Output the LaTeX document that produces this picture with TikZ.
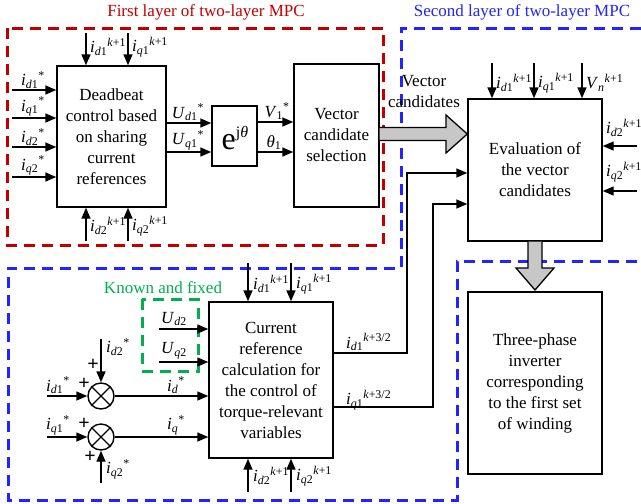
\documentclass[tikz,border=0pt]{standalone}
\usepackage{fontspec}
\setmainfont{Liberation Serif}
\usetikzlibrary{arrows.meta,calc}
\definecolor{myred}{RGB}{192,0,0}
\definecolor{myblue}{RGB}{35,35,255}
\definecolor{mygreen}{RGB}{0,176,80}
\newcommand\vr[3]{\textit{#1}\textsubscript{#2}\textsuperscript{#3}}
\begin{document}
\begin{tikzpicture}[x=1pt,y=-1pt,
  every node/.style={font=\fontsize{17}{21}\selectfont, inner sep=0pt},
  blk/.style={draw, line width=1.4pt, align=center},
  arr/.style={line width=1.4pt, -{Triangle[length=11pt,width=9pt]}},
  zone/.style={line width=3pt, dash pattern=on 11pt off 7pt},
  grayarrow/.style={draw, line width=1.3pt, fill=black!22},
  sumc/.style={draw, circle, line width=1.4pt, minimum size=26pt}
]
\useasboundingbox (0,0) rectangle (641,504);

% zones
\draw[zone, myred] (7,28) rectangle (383,245);
\draw[zone, myblue] (641,28) -- (401,28) -- (401,268) -- (8,268) -- (8,500) -- (457,500) -- (457,261) -- (641,261);
\draw[zone, mygreen] (142,299) rectangle (198,371);
\node[text=myred] (t1) at (206,12) {First layer of two-layer MPC};
\node[text=myblue] (t2) at (522,12) {Second layer of two-layer MPC};
\node[text=mygreen] (t3) at (163,288) {Known and fixed};

% blocks
\node[blk, minimum width=109pt, minimum height=141pt] (db) at (111.5,136.5) {Deadbeat\\control based\\on sharing\\current\\references};
\node[blk, minimum width=45pt, minimum height=60pt] (ej) at (234.5,136) {};
\node (ejt) at (235,138) {{\fontsize{32}{32}\selectfont e}\raisebox{12pt}{\fontsize{16}{16}\selectfont j\textit{θ}}};
\node[blk, minimum width=85pt, minimum height=143pt] (vcs) at (336.5,135.5) {Vector\\candidate\\selection};
\node[blk, minimum width=134pt, minimum height=142pt] (ev) at (535,170) {Evaluation of\\the vector\\candidates};
\node[blk, minimum width=124pt, minimum height=156pt] (cr) at (271,380) {Current\\reference\\calculation for\\the control of\\torque-relevant\\variables};
\node[blk, minimum width=134pt, minimum height=182pt] (inv) at (535,383) {Three-phase\\inverter\\corresponding\\to the first set\\of winding};

% deadbeat inputs (left)
\foreach \y/\n/\s in {90/a1/\textit{d}1, 118/a2/\textit{q}1, 147/a3/\textit{d}2, 177/a4/\textit{q}2}{
  \coordinate (\n) at (12,\y);
  \draw[arr] (\n) -- (\n -| db.west);
  \node[anchor=south west] (\n l) at (21,\y-1.5) {\vr{i}{\s}{*}};
}
% deadbeat top / bottom
\coordinate (b1) at (86,33);
\coordinate (b2) at (128,33);
\draw[arr] (b1) -- (b1 |- db.north);
\draw[arr] (b2) -- (b2 |- db.north);
\node[anchor=west] (b1l) at (90,47) {\vr{i}{\textit{d}1}{\textit{k}+1}};
\node[anchor=west] (b2l) at (132,47) {\vr{i}{\textit{q}1}{\textit{k}+1}};
\coordinate (c1) at (86,241);
\coordinate (c2) at (128,241);
\draw[arr] (c1) -- (c1 |- db.south);
\draw[arr] (c2) -- (c2 |- db.south);
\node[anchor=west] (c1l) at (90,226) {\vr{i}{\textit{d}2}{\textit{k}+1}};
\node[anchor=west] (c2l) at (132,226) {\vr{i}{\textit{q}2}{\textit{k}+1}};

% deadbeat -> ej
\coordinate (u1) at (166,123);
\coordinate (u2) at (166,152);
\draw[arr] (u1) -- (u1 -| ej.west);
\draw[arr] (u2) -- (u2 -| ej.west);
\node[anchor=south] (u1l) at (188,121) {\vr{U}{\textit{d}1}{*}};
\node[anchor=south] (u2l) at (188,150) {\vr{U}{\textit{q}1}{*}};
% ej -> vcs
\coordinate (v1) at (257,122);
\coordinate (v2) at (257,152);
\draw[arr] (v1) -- (v1 -| vcs.west);
\draw[arr] (v2) -- (v2 -| vcs.west);
\node[anchor=south] (v1l) at (277,120) {\vr{V}{1}{*}};
\node[anchor=south] (v2l) at (274,150) {\textit{θ}\textsubscript{1}};

% big arrow vcs -> ev
\draw[grayarrow] (vcs.east |- 0,127.5) -- (446,127.5) -- (446,115) -- (ev.west |- 0,134) -- (446,153) -- (446,140.5) -- (vcs.east |- 0,140.5);
\node[align=center] (vc) at (424,92) {Vector\\candidates};

% ev top inputs
\coordinate (e1) at (492,63);
\coordinate (e2) at (534,63);
\coordinate (e3) at (582,63);
\draw[arr] (e1) -- (e1 |- ev.north);
\draw[arr] (e2) -- (e2 |- ev.north);
\draw[arr] (e3) -- (e3 |- ev.north);
\node[anchor=west] (e1l) at (496,83) {\vr{i}{\textit{d}1}{\textit{k}+1}};
\node[anchor=west] (e2l) at (538,83) {\vr{i}{\textit{q}1}{\textit{k}+1}};
\node[anchor=west] (e3l) at (586,83) {\vr{V}{\textit{n}}{\textit{k}+1}};
% ev right inputs
\coordinate (r1) at (637,146);
\coordinate (r2) at (637,191);
\draw[arr] (r1) -- (r1 -| ev.east);
\draw[arr] (r2) -- (r2 -| ev.east);
\node[anchor=west] (r1l) at (606,128) {\vr{i}{\textit{d}2}{\textit{k}+1}};
\node[anchor=west] (r2l) at (606,172) {\vr{i}{\textit{q}2}{\textit{k}+1}};

% cr -> ev
\coordinate (k1) at (407,353);
\coordinate (k2) at (433,407);
\draw[arr] (cr.east |- k1) -- (k1) -- (407,173) -- (ev.west |- 0,173);
\draw[arr] (cr.east |- k2) -- (k2) -- (433,204) -- (ev.west |- 0,204);
\node[anchor=south west] (k1l) at (346,351) {\vr{i}{\textit{d}1}{\textit{k}+3/2}};
\node[anchor=south west] (k2l) at (346,410) {\vr{i}{\textit{q}1}{\textit{k}+3/2}};

% ev -> inv big arrow
\draw[grayarrow] (528,0 |- ev.south) -- (528,268) -- (516,268) -- (535,290) -- (554,268) -- (542,268) -- (542,0 |- ev.south);

% cr top / bottom
\coordinate (f1) at (248,263);
\coordinate (f2) at (291,263);
\draw[arr] (f1) -- (f1 |- cr.north);
\draw[arr] (f2) -- (f2 |- cr.north);
\node[anchor=west] (f1l) at (253,284) {\vr{i}{\textit{d}1}{\textit{k}+1}};
\node[anchor=west] (f2l) at (296,284) {\vr{i}{\textit{q}1}{\textit{k}+1}};
\coordinate (g1) at (248,492);
\coordinate (g2) at (291,492);
\draw[arr] (g1) -- (g1 |- cr.south);
\draw[arr] (g2) -- (g2 |- cr.south);
\node[anchor=west] (g1l) at (253,476) {\vr{i}{\textit{d}2}{\textit{k}+1}};
\node[anchor=west] (g2l) at (296,476) {\vr{i}{\textit{q}2}{\textit{k}+1}};

% U_d2, U_q2
\coordinate (h1) at (159,329);
\coordinate (h2) at (159,362);
\draw[arr] (h1) -- (h1 -| cr.west);
\draw[arr] (h2) -- (h2 -| cr.west);
\node[anchor=south] (h1l) at (174,326) {\textit{U}\textsubscript{\textit{d}2}};
\node[anchor=south] (h2l) at (174,359) {\textit{U}\textsubscript{\textit{q}2}};

% summing junctions
\node[sumc] (s1) at (101,396) {};
\node[sumc] (s2) at (101,437) {};
\draw[line width=1.4pt] (s1.north east) -- (s1.south west) (s1.north west) -- (s1.south east);
\draw[line width=1.4pt] (s2.north east) -- (s2.south west) (s2.north west) -- (s2.south east);
\draw[arr] (s1.east) -- (s1 -| cr.west);
\draw[arr] (s2.east) -- (s2 -| cr.west);
\node[anchor=south] (s1l) at (176,394) {\vr{i}{\textit{d}}{*}};
\node[anchor=south] (s2l) at (176,435) {\vr{i}{\textit{q}}{*}};
\coordinate (m1) at (47,396);
\coordinate (m2) at (47,437);
\draw[arr] (m1) -- (s1.west);
\draw[arr] (m2) -- (s2.west);
\node[anchor=south west] (m1l) at (46,394) {\vr{i}{\textit{d}1}{*}};
\node[anchor=south west] (m2l) at (46,435) {\vr{i}{\textit{q}1}{*}};
\coordinate (n1) at (101,339);
\coordinate (n2) at (101,483);
\draw[arr] (n1) -- (s1.north);
\draw[arr] (n2) -- (s2.south);
\node[anchor=west] (n1l) at (106,347) {\vr{i}{\textit{d}2}{*}};
\node[anchor=west] (n2l) at (106,469) {\vr{i}{\textit{q}2}{*}};
\node (p1) at (84,384) {\fontsize{20}{20}\selectfont\textbf{+}};
\node (p2) at (93,365) {\fontsize{20}{20}\selectfont\textbf{+}};
\node (p3) at (84,424) {\fontsize{20}{20}\selectfont\textbf{+}};
\node (p4) at (90,457) {\fontsize{20}{20}\selectfont\textbf{+}};
\end{tikzpicture}
\end{document}
